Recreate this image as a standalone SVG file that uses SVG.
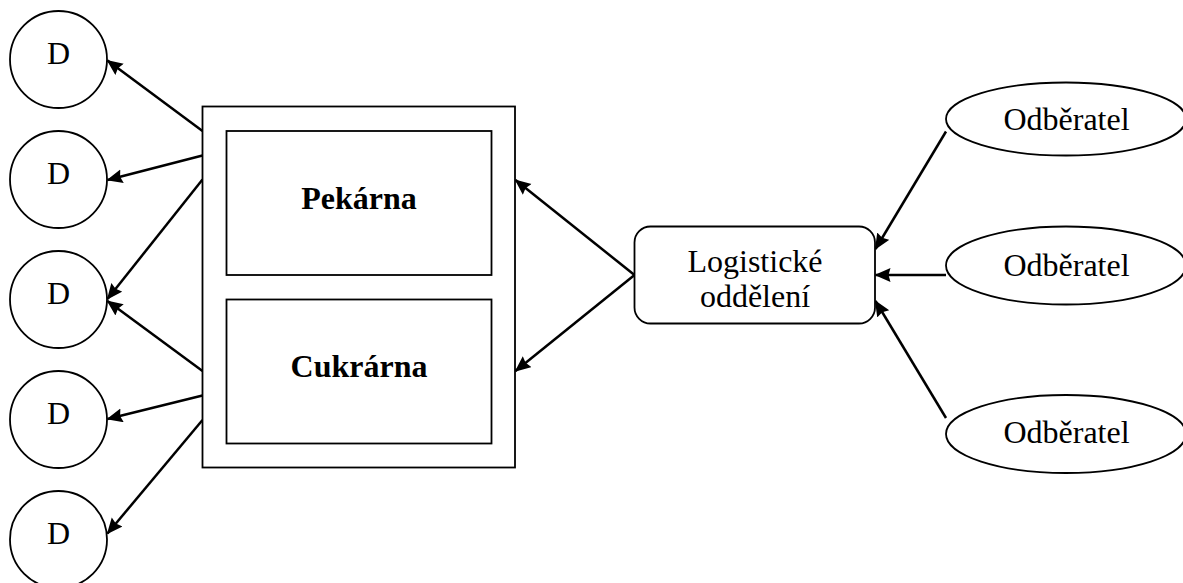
<svg xmlns="http://www.w3.org/2000/svg" width="1183" height="583" viewBox="0 0 1183 583">
<style>
.shape{fill:#fff;stroke:#000;stroke-width:1.8}
.t{font-family:"Liberation Serif","Times New Roman",serif;font-size:32px;fill:#000;text-anchor:middle}
.b{font-weight:bold}
.c{fill:none;stroke:#000;stroke-width:2.5;marker-end:url(#ah)}
</style>
<defs>
<marker id="ah" markerUnits="userSpaceOnUse" markerWidth="18" markerHeight="16" refX="15" refY="7" orient="auto">
<path d="M0,0 L16,7 L0,14 L2,7 z" fill="#000"/>
</marker>
</defs>
<rect width="1183" height="583" fill="#fff"/>
<g id="connectors">
<line class="c" x1="202.5" y1="131" x2="107.5" y2="60.5"/>
<line class="c" x1="202.5" y1="155.5" x2="107.5" y2="180"/>
<line class="c" x1="202.5" y1="179.5" x2="107.5" y2="299"/>
<line class="c" x1="202.5" y1="371" x2="107.5" y2="301"/>
<line class="c" x1="202.5" y1="395.5" x2="107.5" y2="419"/>
<line class="c" x1="202.5" y1="420" x2="107.5" y2="533.5"/>
<line class="c" x1="634.5" y1="275" x2="515.5" y2="180"/>
<line class="c" x1="634.5" y1="275" x2="515.5" y2="371"/>
<line class="c" x1="946" y1="131.5" x2="875.5" y2="249"/>
<line class="c" x1="946" y1="275" x2="875.5" y2="275"/>
<line class="c" x1="946" y1="418" x2="875.5" y2="301"/>
</g>
<g id="d1"><circle class="shape" cx="58.5" cy="59.5" r="48.5"/><text class="t" x="58.5" y="63.5">D</text></g>
<g id="d2"><circle class="shape" cx="58.5" cy="179.5" r="48.5"/><text class="t" x="58.5" y="183.5">D</text></g>
<g id="d3"><circle class="shape" cx="58.5" cy="299.5" r="48.5"/><text class="t" x="58.5" y="303.5">D</text></g>
<g id="d4"><circle class="shape" cx="58.5" cy="419.5" r="48.5"/><text class="t" x="58.5" y="423.5">D</text></g>
<g id="d5"><circle class="shape" cx="58.5" cy="539.5" r="48.5"/><text class="t" x="58.5" y="543.5">D</text></g>
<g id="zavod">
<rect class="shape" x="202.5" y="106.5" width="312.5" height="361"/>
<g id="pekarna"><rect class="shape" x="226.5" y="131" width="265" height="144"/><text class="t b" x="359" y="208.5">Pekárna</text></g>
<g id="cukrarna"><rect class="shape" x="226.5" y="299.5" width="265" height="144"/><text class="t b" x="359" y="377">Cukrárna</text></g>
</g>
<g id="logistika">
<rect class="shape" x="634.5" y="226.5" width="240.5" height="97" rx="16" ry="16"/>
<text class="t" x="755" y="271.5">Logistické</text>
<text class="t" x="755" y="306.5">oddělení</text>
</g>
<g id="o1"><ellipse class="shape" cx="1066" cy="119" rx="120" ry="36.5"/><text class="t" x="1066.5" y="130">Odběratel</text></g>
<g id="o2"><ellipse class="shape" cx="1066" cy="265.5" rx="120" ry="39"/><text class="t" x="1066.5" y="275.5">Odběratel</text></g>
<g id="o3"><ellipse class="shape" cx="1066" cy="434" rx="120" ry="39"/><text class="t" x="1066.5" y="443">Odběratel</text></g>
</svg>
